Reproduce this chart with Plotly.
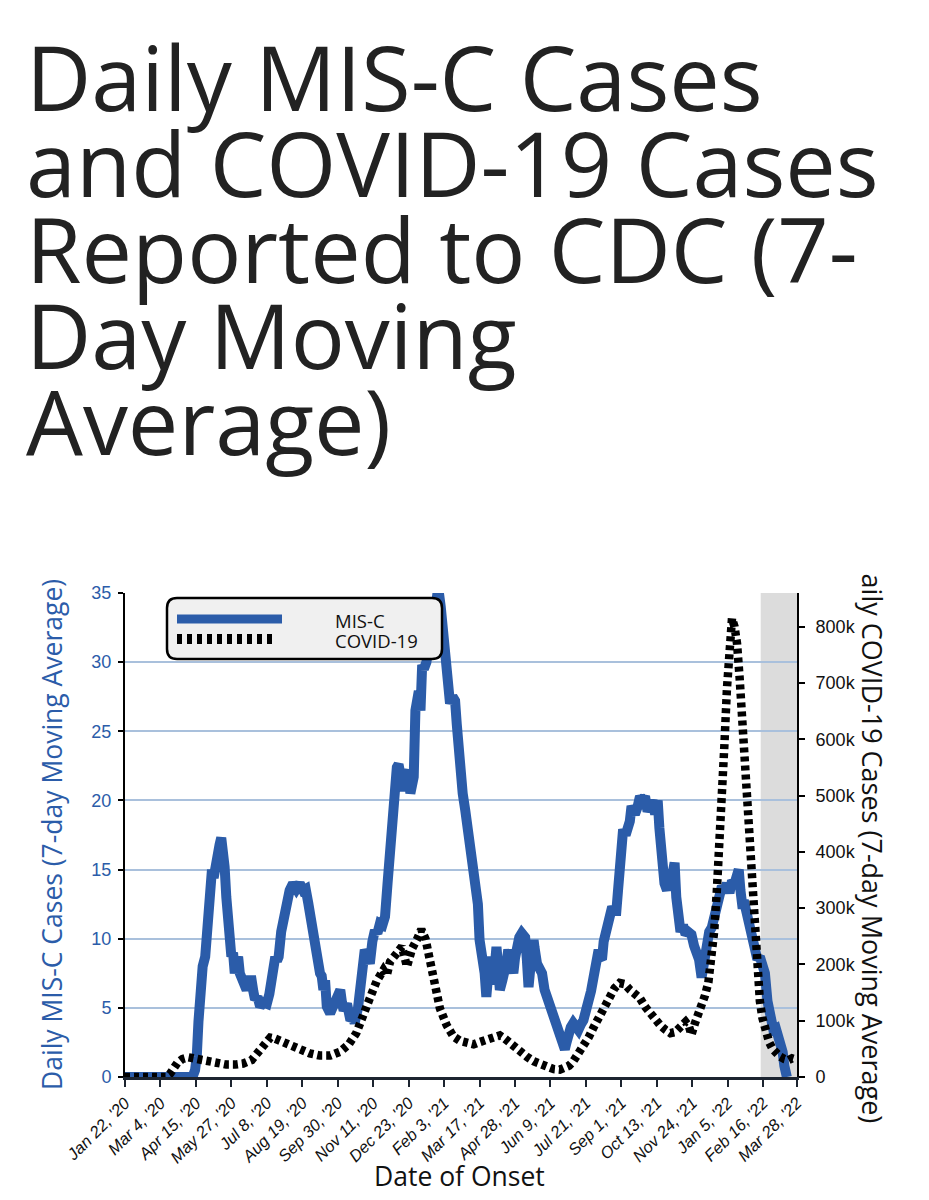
import pandas as pd
import plotly.graph_objects as go

# ---------------- data ----------------
START = "2020-01-22"
END = "2022-03-28"
SHADE_START = "2022-02-13"   # start of the grey "incomplete data" band

# MIS-C 7-day average: day offset from START and value
misc_day = [
    0, 80, 83, 85, 87, 89, 92, 95, 97, 99,
    101, 103, 105, 107, 109, 112, 114, 116, 118, 120,
    122, 124, 126, 128, 130, 132, 134, 136, 138, 141,
    144, 147, 150, 152, 154, 157, 160, 164, 168, 171,
    174, 176, 178, 180, 182, 185, 189, 192, 195, 199,
    203, 207, 211, 214, 217, 221, 223, 225, 228, 231,
    233, 235, 237, 239, 243, 246, 249, 252, 255, 257,
    259, 263, 265, 267, 270, 272, 276, 278, 281, 284,
    287, 290, 293, 296, 299, 302, 305, 308, 311, 314,
    317, 320, 322, 324, 327, 330, 332, 336, 338, 342,
    344, 346, 348, 350, 352, 354, 357, 359, 362, 365,
    368, 371, 374, 377, 379, 381, 383, 385, 388, 391,
    393, 395, 397, 400, 403, 405, 408, 410, 413, 416,
    418, 420, 422, 424, 426, 428, 430, 432, 434, 436,
    438, 440, 442, 444, 447, 450, 452, 454, 457, 460,
    462, 464, 467, 470, 474, 476, 478, 480, 484, 485,
    488, 490, 494, 497, 500, 503, 506, 509, 512, 515,
    518, 521, 523, 525, 528, 531, 534, 537, 540, 543,
    546, 549, 552, 555, 557, 561, 563, 565, 567, 571,
    573, 577, 580, 582, 584, 586, 588, 590, 593, 596,
    598, 600, 604, 607, 610, 613, 616, 619, 622, 625,
    628, 631, 633, 636, 639, 642, 645, 648, 651, 653,
    656, 658, 661, 664, 667, 671, 674, 677, 680, 683,
    686, 689, 692, 695, 698, 701, 704, 707, 710, 713,
    716, 719, 722, 725, 727, 729, 731, 734, 737, 740,
    743, 746, 749, 752, 755, 758, 761, 763, 766, 768,
    771, 774, 776, 779, 781, 784,
]
misc_val = [
    0, 0, 0.5, 1.5, 4.0, 6.3, 8.0, 8.7, 11.1, 13.0,
    14.7, 15.0, 14.4, 15.5, 16.4, 16.8, 17.3, 16.5, 15.2, 13.0,
    11.1, 9.5, 8.7, 9.0, 7.5, 8.3, 8.7, 7.5, 7.2, 6.8,
    6.3, 7.0, 7.0, 6.2, 5.6, 5.8, 5.1, 5.4, 5.3, 6.0,
    7.5, 7.8, 8.7, 8.4, 8.7, 10.5, 12.3, 12.6, 13.5, 14.0,
    13.6, 14.0, 13.5, 13.6, 12.6, 11.1, 9.8, 8.7, 8.5, 7.5,
    7.3, 6.3, 7.0, 5.1, 4.6, 5.0, 5.3, 5.8, 6.3, 5.4,
    4.8, 5.3, 4.6, 4.1, 4.3, 3.9, 5.0, 6.3, 7.5, 9.2,
    8.8, 8.2, 9.8, 10.6, 10.4, 11.1, 11.0, 11.6, 14.0, 16.9,
    19.5, 21.7, 22.4, 22.6, 21.0, 20.7, 21.5, 22.2, 20.5, 21.7,
    26.5, 27.5, 27.9, 26.5, 29.8, 29.5, 30.0, 31.0, 32.0, 33.3,
    34.0, 35.4, 34.0, 32.3, 31.0, 29.8, 27.5, 27.0, 27.5, 27.2,
    25.5, 23.5, 22.7, 20.5, 19.3, 18.3, 17.2, 16.5, 15.5, 14.0,
    12.5, 9.9, 9.3, 8.7, 7.5, 5.8, 7.0, 8.7, 7.8, 6.7,
    8.0, 9.4, 8.0, 6.3, 7.0, 7.5, 8.3, 9.2, 8.3, 7.5,
    8.6, 9.9, 10.1, 10.4, 10.1, 8.5, 6.5, 7.8, 9.9, 9.4,
    8.2, 8.0, 7.5, 6.3, 5.8, 5.1, 4.5, 3.9, 3.8, 3.4,
    2.8, 2.0, 2.5, 3.2, 3.6, 3.9, 3.6, 3.4, 3.8, 4.1,
    4.8, 5.3, 6.2, 7.2, 8.0, 9.2, 8.6, 8.5, 9.8, 11.1,
    11.5, 12.3, 12.0, 12.0, 13.5, 15.5, 16.5, 17.9, 17.5, 17.9,
    18.5, 19.6, 19.0, 19.5, 20.3, 20.0, 20.3, 19.2, 19.8, 20.0,
    19.0, 20.0, 18.0, 14.5, 14.0, 13.5, 15.0, 14.5, 15.5, 13.0,
    10.5, 10.5, 11.0, 10.3, 10.5, 10.3, 9.5, 9.0, 8.5, 7.2,
    8.5, 10.2, 10.5, 10.8, 11.5, 12.8, 13.5, 13.8, 13.5, 14.0,
    13.3, 14.2, 14.0, 14.5, 15.0, 13.5, 12.5, 12.5, 11.5, 10.5,
    9.5, 9.0, 8.5, 8.7, 8.0, 7.5, 5.5, 4.6, 3.8, 3.4,
    3.5, 3.0, 2.7, 1.8, 0.8, 0.0,
]

# COVID-19 7-day average: day offset from START and cases
covid_day = [
    0, 48, 53, 57, 62, 68, 75, 82, 90, 100,
    110, 120, 130, 140, 150, 158, 165, 172, 178, 185,
    195, 207, 219, 231, 243, 255, 265, 274, 282, 290,
    298, 306, 310, 314, 322, 328, 334, 340, 346, 351,
    356, 361, 367, 373, 381, 389, 397, 405, 413, 420,
    428, 436, 444, 450, 456, 462, 468, 476, 484, 492,
    500, 508, 515, 520, 526, 531, 537, 543, 549, 555,
    561, 567, 574, 580, 586, 592, 598, 604, 610, 616,
    622, 628, 634, 640, 646, 652, 658, 664, 668, 671,
    675, 679, 683, 687, 691, 695, 698, 701, 704, 707,
    710, 713, 716, 719, 722, 725, 728, 731, 734, 737,
    740, 743, 746, 749, 752, 755, 759, 763, 767, 771,
    776, 781, 786, 790, 796,
]
covid_val = [
    0, 0, 5000, 15000, 25000, 32000, 35000, 33000, 30000, 27000,
    25000, 22000, 22000, 24000, 30000, 45000, 60000, 70000, 68000, 63000,
    55000, 48000, 42000, 38000, 38000, 45000, 58000, 78000, 105000, 140000,
    170000, 190000, 180000, 205000, 220000, 232000, 196000, 228000, 245000, 262000,
    245000, 205000, 160000, 122000, 92000, 72000, 64000, 60000, 58000, 62000,
    66000, 70000, 74000, 68000, 60000, 50000, 44000, 36000, 28000, 22000,
    17000, 14000, 13000, 15000, 20000, 28000, 40000, 53000, 70000, 88000,
    105000, 122000, 145000, 158000, 167000, 165000, 155000, 148000, 140000, 125000,
    112000, 100000, 92000, 84000, 78000, 80000, 88000, 98000, 90000, 75000,
    95000, 110000, 125000, 145000, 168000, 210000, 260000, 330000, 400000, 490000,
    590000, 690000, 770000, 815000, 800000, 770000, 710000, 630000, 550000, 480000,
    400000, 310000, 230000, 175000, 135000, 105000, 80000, 62000, 50000, 42000,
    36000, 32000, 30000, 33000, 30000,
]

xtick_dates = ["2020-01-22", "2020-03-04", "2020-04-15", "2020-05-27", "2020-07-08",
               "2020-08-19", "2020-09-30", "2020-11-11", "2020-12-23", "2021-02-03",
               "2021-03-17", "2021-04-28", "2021-06-09", "2021-07-21", "2021-09-01",
               "2021-10-13", "2021-11-24", "2022-01-05", "2022-02-16", "2022-03-28"]
xtick_labels = ["Jan 22, '20", "Mar 4, '20", "Apr 15, '20", "May 27, '20", "Jul 8, '20",
                "Aug 19, '20", "Sep 30, '20", "Nov 11, '20", "Dec 23, '20", "Feb 3, '21",
                "Mar 17, '21", "Apr 28, '21", "Jun 9, '21", "Jul 21, '21", "Sep 1, '21",
                "Oct 13, '21", "Nov 24, '21", "Jan 5, '22", "Feb 16, '22", "Mar 28, '22"]
misc_ticks = [0, 5, 10, 15, 20, 25, 30, 35]
covid_ticks = [0, 100000, 200000, 300000, 400000, 500000, 600000, 700000, 800000]
covid_tick_labels = ["0", "100k", "200k", "300k", "400k", "500k", "600k", "700k", "800k"]

title_lines = ["Daily MIS-C Cases", "and COVID-19 Cases", "Reported to CDC (7-",
               "Day Moving", "Average)"]

# ---------------- styling ----------------
W, H = 929, 1200
ML, MR, MT, MB = 125, 132, 593, 123
PW, PH = W - ML - MR, H - MT - MB
BLUE = "#2b5ca9"
GRID = "#a9c0dc"
TICKFONT = "Arial, Liberation Sans, sans-serif"
TEXTFONT = "Open Sans, Noto Sans, sans-serif"


def px(x):
    return (x - ML) / PW


def py(y):
    return (H - MB - y) / PH


start = pd.Timestamp(START)
misc_x = start + pd.to_timedelta(misc_day, unit="D")
covid_x = start + pd.to_timedelta(covid_day, unit="D")

fig = go.Figure()
fig.add_trace(go.Scatter(x=misc_x, y=misc_val, mode="lines", name="MIS-C",
                         line=dict(color=BLUE, width=10), showlegend=False,
                         hoverinfo="skip"))
fig.add_trace(go.Scatter(x=covid_x, y=covid_val, mode="lines", name="COVID-19",
                         yaxis="y2", line=dict(color="black", width=8.5, dash="5px,4px"),
                         showlegend=False, hoverinfo="skip"))

shapes = [
    dict(type="rect", xref="x", yref="paper", x0=SHADE_START, x1=END, y0=0, y1=1,
         fillcolor="#dcdcdc", line=dict(width=0), layer="below"),
]

# custom rounded legend box
lx0, lx1, ly0, ly1, r = 167, 442, 598, 659, 10
path = (f"M{px(lx0 + r)},{py(ly0)} L{px(lx1 - r)},{py(ly0)} "
        f"Q{px(lx1)},{py(ly0)} {px(lx1)},{py(ly0 + r)} "
        f"L{px(lx1)},{py(ly1 - r)} Q{px(lx1)},{py(ly1)} {px(lx1 - r)},{py(ly1)} "
        f"L{px(lx0 + r)},{py(ly1)} Q{px(lx0)},{py(ly1)} {px(lx0)},{py(ly1 - r)} "
        f"L{px(lx0)},{py(ly0 + r)} Q{px(lx0)},{py(ly0)} {px(lx0 + r)},{py(ly0)} Z")
shapes.append(dict(type="path", xref="paper", yref="paper", path=path,
                   fillcolor="#f0f0f0", line=dict(color="black", width=2.5), layer="above"))
shapes.append(dict(type="line", xref="paper", yref="paper", x0=px(177), x1=px(282),
                   y0=py(619), y1=py(619), line=dict(color=BLUE, width=9), layer="above"))
shapes.append(dict(type="line", xref="paper", yref="paper", x0=px(177), x1=px(277),
                   y0=py(639), y1=py(639), line=dict(color="black", width=10, dash="5px,5px"),
                   layer="above"))

annotations = []
title_centers = [76, 162, 248, 334, 420]
for line, cy in zip(title_lines, title_centers):
    annotations.append(dict(text=line, xref="paper", yref="paper", x=px(24), y=py(cy),
                            xanchor="left", yanchor="middle", showarrow=False,
                            font=dict(family=TEXTFONT, size=90, color="#222222")))
annotations.append(dict(text="Daily MIS-C Cases (7-day Moving Average)", xref="paper",
                        yref="paper", x=px(52), y=0.5, textangle=-90, showarrow=False,
                        xanchor="center", yanchor="middle",
                        font=dict(family=TEXTFONT, size=26.5, color=BLUE)))
annotations.append(dict(text="Daily COVID-19 Cases (7-day Moving Average)", xref="paper",
                        yref="paper", x=px(873), y=py(838), textangle=90, showarrow=False,
                        xanchor="center", yanchor="middle",
                        font=dict(family=TEXTFONT, size=27, color="#111111")))
# the original chart image is cut off at its top edge
annotations.append(dict(text=" ", xref="paper", yref="paper", x=px(873), y=py(548),
                        xanchor="center", yanchor="middle", showarrow=False,
                        width=60, height=46, bgcolor="white", borderwidth=0))
annotations.append(dict(text="Date of Onset", xref="paper", yref="paper", x=px(459),
                        y=py(1176), xanchor="center", yanchor="middle", showarrow=False,
                        font=dict(family=TEXTFONT, size=26.5, color="#111111")))
annotations.append(dict(text="MIS-C", xref="paper", yref="paper", x=px(333), y=py(620),
                        xanchor="left", yanchor="middle", showarrow=False,
                        font=dict(family=TEXTFONT, size=18.5, color="#111111")))
annotations.append(dict(text="COVID-19", xref="paper", yref="paper", x=px(333), y=py(640),
                        xanchor="left", yanchor="middle", showarrow=False,
                        font=dict(family=TEXTFONT, size=18.5, color="#111111")))

fig.update_layout(
    template="none",
    width=W, height=H, autosize=False,
    margin=dict(l=ML, r=MR, t=MT, b=MB, pad=0, autoexpand=False),
    paper_bgcolor="white", plot_bgcolor="white",
    showlegend=False,
    xaxis=dict(type="date", range=[START, END], tickmode="array", tickvals=xtick_dates,
               ticktext=xtick_labels, tickangle=-45,
               tickfont=dict(family=TICKFONT, size=16.5, color="#111111", style="italic"),
               ticks="outside", ticklen=7, tickwidth=2, tickcolor="#1c2430",
               showline=True, linecolor="#1c2430", linewidth=3,
               showgrid=False, zeroline=False, automargin=False, fixedrange=True),
    yaxis=dict(range=[0, 35], tickmode="array", tickvals=misc_ticks,
               tickfont=dict(family=TICKFONT, size=18, color=BLUE),
               ticks="outside", ticklen=5, tickwidth=2, tickcolor="black",
               ticklabelstandoff=3,
               showline=True, linecolor="black", linewidth=2,
               showgrid=True, gridcolor=GRID, gridwidth=2, zeroline=False,
               automargin=False, fixedrange=True),
    yaxis2=dict(overlaying="y", side="right", range=[0, 860000], tickmode="array",
                tickvals=covid_ticks, ticktext=covid_tick_labels,
                tickfont=dict(family=TICKFONT, size=18, color="#111111"),
                ticks="outside", ticklen=6, tickwidth=2, tickcolor="black",
                ticklabelstandoff=7,
                showline=True, linecolor="black", linewidth=2,
                showgrid=False, zeroline=False, automargin=False, fixedrange=True),
    shapes=shapes,
    annotations=annotations,
)

fig.write_html("out.html", config={"displayModeBar": False})
